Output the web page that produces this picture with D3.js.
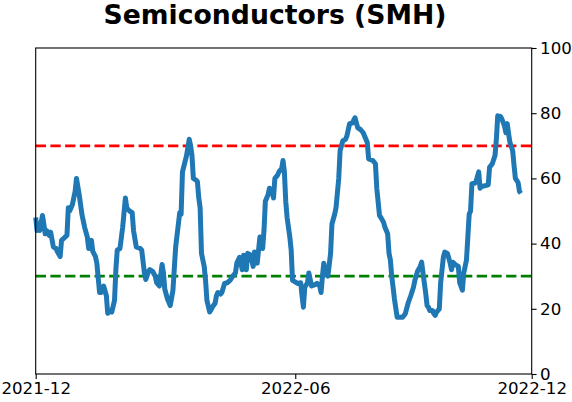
<!DOCTYPE html>
<html>
<head>
<meta charset="utf-8">
<script src="https://cdn.jsdelivr.net/npm/d3@7"></script>
<style>
  html, body { margin: 0; padding: 0; background: #fff; }
  svg { display: block; font-family: "DejaVu Sans", sans-serif; }
</style>
</head>
<body>
<svg id="chart" width="572" height="402"></svg>
<script>
const title = "Semiconductors (SMH)";
const startDate = "2021-12-01";
// days since startDate
const dayOffsets = [0,1,2,3,5,6,7,8,10,11,13,15,16,18,19,23,24,25,27,29,30,32,34,36,38,39,41,42,44,45,47,48,50,52,53,54,56,58,59,60,62,64,66,67,69,71,72,74,77,78,80,81,83,84,86,88,89,91,93,94,95,97,99,101,103,105,106,107,108,111,113,114,115,116,118,119,120,121,122,124,125,126,128,130,132,133,134,136,137,139,141,143,145,147,148,150,151,152,153,154,155,156,158,159,160,161,163,164,165,167,168,169,171,172,174,175,176,178,179,181,182,183,184,185,187,188,189,192,193,195,196,197,198,200,201,202,203,206,207,209,210,211,212,213,215,217,218,220,221,223,224,226,228,229,231,233,235,236,237,239,241,242,244,245,248,250,251,253,254,256,257,259,260,261,262,263,264,266,268,270,272,274,276,278,279,281,283,284,285,287,288,289,290,292,293,294,295,297,298,300,301,303,305,306,307,309,311,312,314,315,316,317,318,319,320,321,323,324,326,327,328,331,333,334,336,338,339,340,342,343,345,346,347,348,349,351,352,353,355,356,357];
const values = [48,44,46,44,48.6,46,43,44,42.5,43.5,39,38.5,37.5,36,41,42.5,51,50,52,56,60,55,49,45,42,38.5,41,37.6,36,34,25,25,27,24,18.6,19.5,19,22.6,32,38,38.5,45,54,51,50,49.5,44,39,38.5,38,31,29,31.5,32,31.5,30,28,27,33.6,31,26,23,21,25.7,39,46,49.5,49,62,67,72,70,67,60,59.5,59,54,51,37,33,28.7,22.6,19,20.5,21.7,24,25,24.5,25,27.8,28,28.7,30,31,34,35.8,34,32,36.4,35,32,37,36.5,35,33,37.4,34,38,42,38.5,44,53,55,57,56,54,60,61,62,63,65.5,62,53,48,42,38,28.7,28,27.8,28,24,20.5,26.6,28,31,29,27,27.5,27.8,27,25,30,34,31,30,37,46,49,51,60,68.5,71.5,72,73,76.8,77,78.6,77,75.5,75,74,73,71,66,65.5,64.5,57,48.6,48,46.5,45,43,37,35,30,26.6,23,17.4,17.4,17.4,18.5,21.7,24,26.6,28.7,31.5,33,34.3,31,24.8,21,20.5,19.5,19.5,18.5,18,19,20,28,35.8,37.4,37,34,32,34.3,33.5,33,28,25.7,31,33,35,42,49,50,58.4,58.5,59,62,57,57.5,57.8,58,63.4,64.5,67,72,79.2,79,78.3,76,74,76.8,73.7,71,68.5,64,60,58.7,56,55.4];
const xDomain = ["2021-12-01", "2022-12-01"];
const xTickDates = ["2021-12-01", "2022-06-10", "2022-12-01"];
const yTicks = [0, 20, 40, 60, 80, 100];
const upperLevel = 70;
const lowerLevel = 30;

const parse = d3.utcParse("%Y-%m-%d");
const base = parse(startDate);
const data = dayOffsets.map((d, i) => ({ date: d3.utcDay.offset(base, d), value: values[i] }));

const svg = d3.select("#chart");
const margin = { left: 35.7, right: 572 - 531.7, top: 48, bottom: 402 - 374 };
const W = 572, H = 402;

const x = d3.scaleUtc().domain(xDomain.map(parse)).range([margin.left, W - margin.right]);
const y = d3.scaleLinear().domain([0, 100]).range([H - margin.bottom, margin.top]);

const fontSize = 16.67;

// threshold lines
svg.append("line")
  .attr("x1", x.range()[0]).attr("x2", x.range()[1])
  .attr("y1", y(upperLevel)).attr("y2", y(upperLevel))
  .attr("stroke", "#ff0000").attr("stroke-width", 2.8).attr("stroke-dasharray", "10.3,4.4");
svg.append("line")
  .attr("x1", x.range()[0]).attr("x2", x.range()[1])
  .attr("y1", y(lowerLevel)).attr("y2", y(lowerLevel))
  .attr("stroke", "#008000").attr("stroke-width", 2.8).attr("stroke-dasharray", "10.3,4.4");

// main line
const line = d3.line().x(d => x(d.date)).y(d => y(d.value));
svg.append("path")
  .datum(data)
  .attr("fill", "none")
  .attr("stroke", "#1f77b4")
  .attr("stroke-width", 5)
  .attr("stroke-linejoin", "round")
  .attr("stroke-linecap", "butt")
  .attr("d", line);

// frame
svg.append("rect")
  .attr("x", x.range()[0]).attr("y", margin.top)
  .attr("width", x.range()[1] - x.range()[0])
  .attr("height", y(0) - margin.top)
  .attr("fill", "none").attr("stroke", "#000").attr("stroke-width", 1.1);

// x axis
const xAxis = d3.axisBottom(x)
  .tickValues(xTickDates.map(parse))
  .tickFormat(d3.utcFormat("%Y-%m"))
  .tickSize(4.9).tickPadding(3.5);
const gx = svg.append("g").attr("transform", `translate(0,${y(0)})`).call(xAxis);
gx.select(".domain").remove();
gx.selectAll("text").attr("font-size", fontSize).attr("font-family", "DejaVu Sans").attr("fill", "#000");
gx.selectAll("line").attr("stroke", "#000").attr("stroke-width", 1.1);

// y axis (right)
const yAxis = d3.axisRight(y).tickValues(yTicks).tickSize(4.9).tickPadding(3.5);
const gy = svg.append("g").attr("transform", `translate(${x.range()[1]},0)`).call(yAxis);
gy.select(".domain").remove();
gy.selectAll("text").attr("font-size", fontSize).attr("font-family", "DejaVu Sans").attr("fill", "#000");
gy.selectAll("line").attr("stroke", "#000").attr("stroke-width", 1.1);

// title
svg.append("text")
  .attr("x", 275).attr("y", 24)
  .attr("text-anchor", "middle")
  .attr("font-family", "DejaVu Sans")
  .attr("font-weight", "bold")
  .attr("font-size", 26.67)
  .text(title);
</script>
</body>
</html>
